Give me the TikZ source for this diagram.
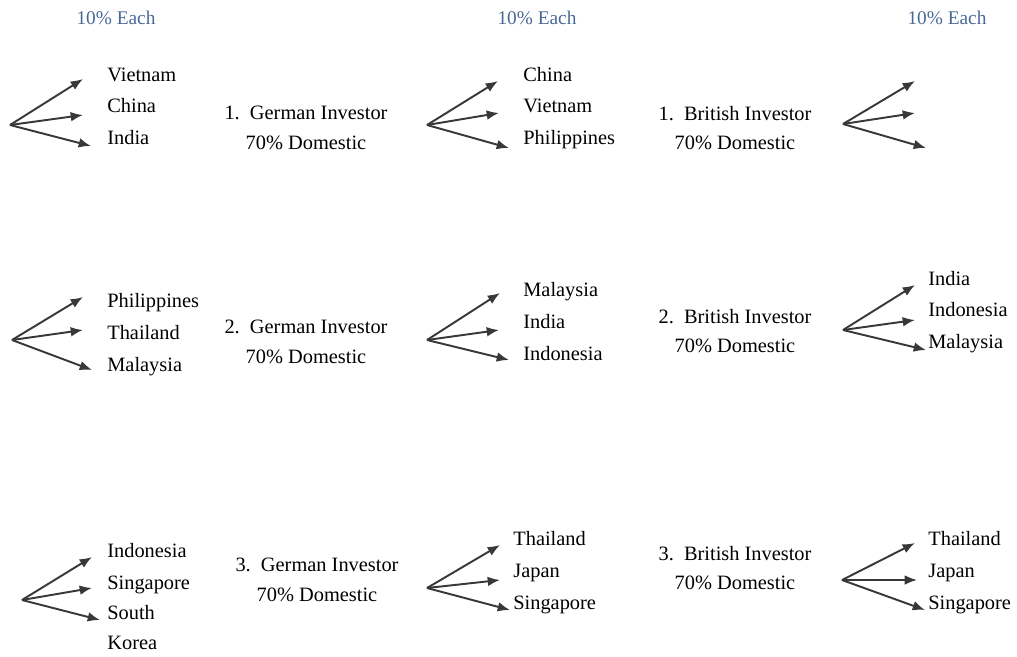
\documentclass[tikz,border=0pt]{standalone}
\usepackage{fontspec}
\setmainfont{Liberation Serif}
\usepackage{xcolor}
\definecolor{eachblue}{RGB}{74,104,150}
\usepackage{tikz}
\usetikzlibrary{arrows.meta}

\begin{document}
\begin{tikzpicture}[x=0.02cm, y=-0.02cm,
  share/.style={inner sep=0pt, text=eachblue, font=\fontsize{11}{13}\selectfont},
  country/.style={anchor=west, inner sep=0pt, text height=8pt, text depth=2.5pt,
                  font=\fontsize{11.6}{14}\selectfont},
  investor/.style={align=center, inner sep=0pt, font=\fontsize{11.6}{17}\selectfont},
  arr/.style={-{Latex[length=7pt,width=5.5pt]}, line width=1.1pt, black!78}
]
\useasboundingbox (0,0) rectangle (1017,656);

% shares
\node[share] (eachA) at (116,18) {10\% Each};
\node[share] (eachB) at (537,18) {10\% Each};
\node[share] (eachC) at (947,18) {10\% Each};

% investors
\node[investor] (ger1) at (306,128) {1.\ \ German Investor\\70\% Domestic};
\node[investor] (bri1) at (735,128) {1.\ \ British Investor\\70\% Domestic};
\node[investor] (ger2) at (306,342) {2.\ \ German Investor\\70\% Domestic};
\node[investor] (bri2) at (735,331) {2.\ \ British Investor\\70\% Domestic};
\node[investor] (ger3) at (317,580) {3.\ \ German Investor\\70\% Domestic};
\node[investor] (bri3) at (735,568) {3.\ \ British Investor\\70\% Domestic};

% countries, row 1
\node[country] (viet1) at (107,77)  {Vietnam};
\node[country] (chin1) at (107,108) {China};
\node[country] (indi1) at (107,140) {India};
\node[country] (chin2) at (523,77)  {China};
\node[country] (viet2) at (523,108) {Vietnam};
\node[country] (phil2) at (523,140) {Philippines};

% countries, row 2
\node[country] (phil3) at (107,303) {Philippines};
\node[country] (thai3) at (107,335) {Thailand};
\node[country] (mala3) at (107,367) {Malaysia};
\node[country] (mala4) at (523,292) {Malaysia};
\node[country] (indi4) at (523,324) {India};
\node[country] (indo4) at (523,356) {Indonesia};
\node[country] (indi5) at (928,281) {India};
\node[country] (indo5) at (928,312) {Indonesia};
\node[country] (mala5) at (928,344) {Malaysia};

% countries, row 3
\node[country] (indo6) at (107,553) {Indonesia};
\node[country] (sing6) at (107,585) {Singapore};
\node[country] (sout6) at (107,615) {South};
\node[country] (kore6) at (107,645) {Korea};
\node[country] (thai7) at (513,541) {Thailand};
\node[country] (japa7) at (513,573) {Japan};
\node[country] (sing7) at (513,605) {Singapore};
\node[country] (thai8) at (928,541) {Thailand};
\node[country] (japa8) at (928,573) {Japan};
\node[country] (sing8) at (928,605) {Singapore};

% fans
\coordinate (o1) at (10,125);  \coordinate (a1) at (83,79);   \coordinate (b1) at (83,115);  \coordinate (c1) at (91,146);
\coordinate (o2) at (427,125); \coordinate (a2) at (498,81);  \coordinate (b2) at (499,113); \coordinate (c2) at (509,148);
\coordinate (o3) at (843,124); \coordinate (a3) at (915,81);  \coordinate (b3) at (915,113); \coordinate (c3) at (926,148);
\coordinate (o4) at (12,340);  \coordinate (a4) at (83,297);  \coordinate (b4) at (83,330);  \coordinate (c4) at (92,370);
\coordinate (o5) at (427,340); \coordinate (a5) at (500,293); \coordinate (b5) at (499,330); \coordinate (c5) at (509,360);
\coordinate (o6) at (843,330); \coordinate (a6) at (915,285); \coordinate (b6) at (915,320); \coordinate (c6) at (926,350);
\coordinate (o7) at (22,600);  \coordinate (a7) at (92,557);  \coordinate (b7) at (92,588);  \coordinate (c7) at (100,620);
\coordinate (o8) at (427,588); \coordinate (a8) at (500,545); \coordinate (b8) at (500,580); \coordinate (c8) at (510,610);
\coordinate (o9) at (842,580); \coordinate (a9) at (915,543); \coordinate (b9) at (917,580); \coordinate (c9) at (925,610);

\draw[arr] (o1)--(a1); \draw[arr] (o1)--(b1); \draw[arr] (o1)--(c1);
\draw[arr] (o2)--(a2); \draw[arr] (o2)--(b2); \draw[arr] (o2)--(c2);
\draw[arr] (o3)--(a3); \draw[arr] (o3)--(b3); \draw[arr] (o3)--(c3);
\draw[arr] (o4)--(a4); \draw[arr] (o4)--(b4); \draw[arr] (o4)--(c4);
\draw[arr] (o5)--(a5); \draw[arr] (o5)--(b5); \draw[arr] (o5)--(c5);
\draw[arr] (o6)--(a6); \draw[arr] (o6)--(b6); \draw[arr] (o6)--(c6);
\draw[arr] (o7)--(a7); \draw[arr] (o7)--(b7); \draw[arr] (o7)--(c7);
\draw[arr] (o8)--(a8); \draw[arr] (o8)--(b8); \draw[arr] (o8)--(c8);
\draw[arr] (o9)--(a9); \draw[arr] (o9)--(b9); \draw[arr] (o9)--(c9);
\end{tikzpicture}
\end{document}
